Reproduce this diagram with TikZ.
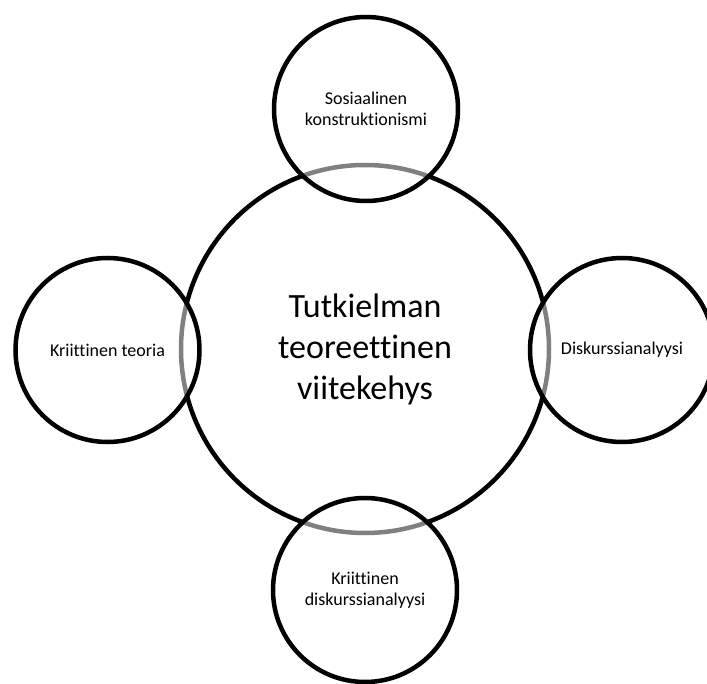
\documentclass[tikz,border=0pt]{standalone}
\usepackage{fontspec}
\setmainfont{Carlito}[Ligatures=NoCommon]
\begin{document}
\begin{tikzpicture}[x=1pt,y=-1pt,
  hub/.style={circle, draw=black, line width=4.5pt, minimum size=368pt, inner sep=0pt,
    align=center, font=\fontsize{34}{41}\selectfont},
  sat/.style={circle, draw=black, line width=4.5pt, minimum size=184pt, inner sep=0pt,
    fill=white, fill opacity=0.5, draw opacity=1, text opacity=1,
    align=center, font=\fontsize{18}{21}\selectfont}]
\useasboundingbox (0,0) rectangle (707,684);
\node[hub] (c) at (365,349) {Tutkielman\\teoreettinen\\viitekehys};
\node[sat] (t) at (366,109) {Sosiaalinen\\konstruktionismi};
\node[sat] (l) at (107.5,350) {Kriittinen teoria};
\node[sat] (r) at (622,350) {Diskurssianalyysi};
\node[sat] (b) at (365,590) {Kriittinen\\diskurssianalyysi};
\end{tikzpicture}
\end{document}
